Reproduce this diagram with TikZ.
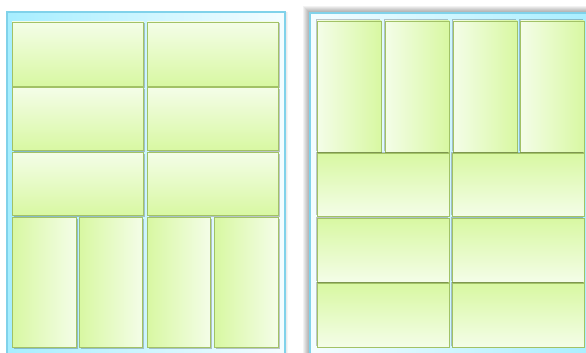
\documentclass[tikz,border=0pt]{standalone}
\usepackage{tikz}
\usepackage{xcolor}

\definecolor{framecyan}{HTML}{A6EEFF}
\definecolor{framewhite}{HTML}{F4FDFF}
\definecolor{frameline}{HTML}{80D2EA}
\definecolor{tilegreen}{HTML}{D8F8A2}
\definecolor{tilewhite}{HTML}{F4FDE8}
\definecolor{tileline}{HTML}{A2C266}

\tikzset{
  frame/.style={draw=frameline, line width=1.4pt},
  tile/.style={draw=tileline, line width=0.9pt},
  tiledown/.style={tile, top color=tilewhite, bottom color=tilegreen},
  tileup/.style={tile, top color=tilegreen, bottom color=tilewhite},
  tileright/.style={tile, left color=tilewhite, right color=tilegreen},
  tileleft/.style={tile, left color=tilegreen, right color=tilewhite},
  tileshade/.style={fill=black, opacity=0.22}
}

\begin{document}
\begin{tikzpicture}[x=1pt,y=-1pt]
  \useasboundingbox (0,0) rectangle (586,353);
  \clip (0,0) rectangle (586,353);
  \fill[white] (0,0) rectangle (586,353);

  % left panel
  \foreach \d in {1,2,3}
    \fill[black, opacity=0.04] (7,12) rectangle (285+\d,360);
  \draw[frame, left color=framecyan, right color=framewhite] (7,12) rectangle (285,362);
  \foreach \xa/\xb/\ya/\yb in {12/143.5/22/86, 147/278/22/86,
                               12/143.5/87.5/150.5, 147/278/87.5/150.5,
                               12/143.5/152/215.5, 147/278/152/215.5} {
    \fill[tileshade] (\xa+1.5,\ya+1.5) rectangle (\xb+1.5,\yb+1.5);
    \draw[tiledown] (\xa,\ya) rectangle (\xb,\yb);
  }
  \foreach \xa/\xb in {12/76, 79/142.5, 147/210.5, 214.5/278} {
    \fill[tileshade] (\xa+1.5,218.5) rectangle (\xb+1.5,348.5);
    \draw[tileleft] (\xa,217) rectangle (\xb,347);
  }

  % right panel
  \foreach \d in {1,...,7}
    \fill[black, opacity=0.05] (310-\d,13-\d) rectangle (600,362);
  \draw[frame, left color=framewhite, right color=framecyan] (310,13) rectangle (598,358);
  \foreach \xa/\xb in {317/381, 385/449, 453/517, 520.5/584} {
    \fill[tileshade] (\xa-1.5,19.5) rectangle (\xb-1.5,150.5);
    \draw[tileright] (\xa,21) rectangle (\xb,152);
  }
  \foreach \xa/\xb/\ya/\yb in {317/449/153/216, 452.5/584/153/216,
                               317/449/218/282, 452.5/584/218/282,
                               317/449/283.5/347, 452.5/584/283.5/347} {
    \fill[tileshade] (\xa-1.5,\ya-1.5) rectangle (\xb-1.5,\yb-1.5);
    \draw[tileup] (\xa,\ya) rectangle (\xb,\yb);
  }
\end{tikzpicture}
\end{document}
